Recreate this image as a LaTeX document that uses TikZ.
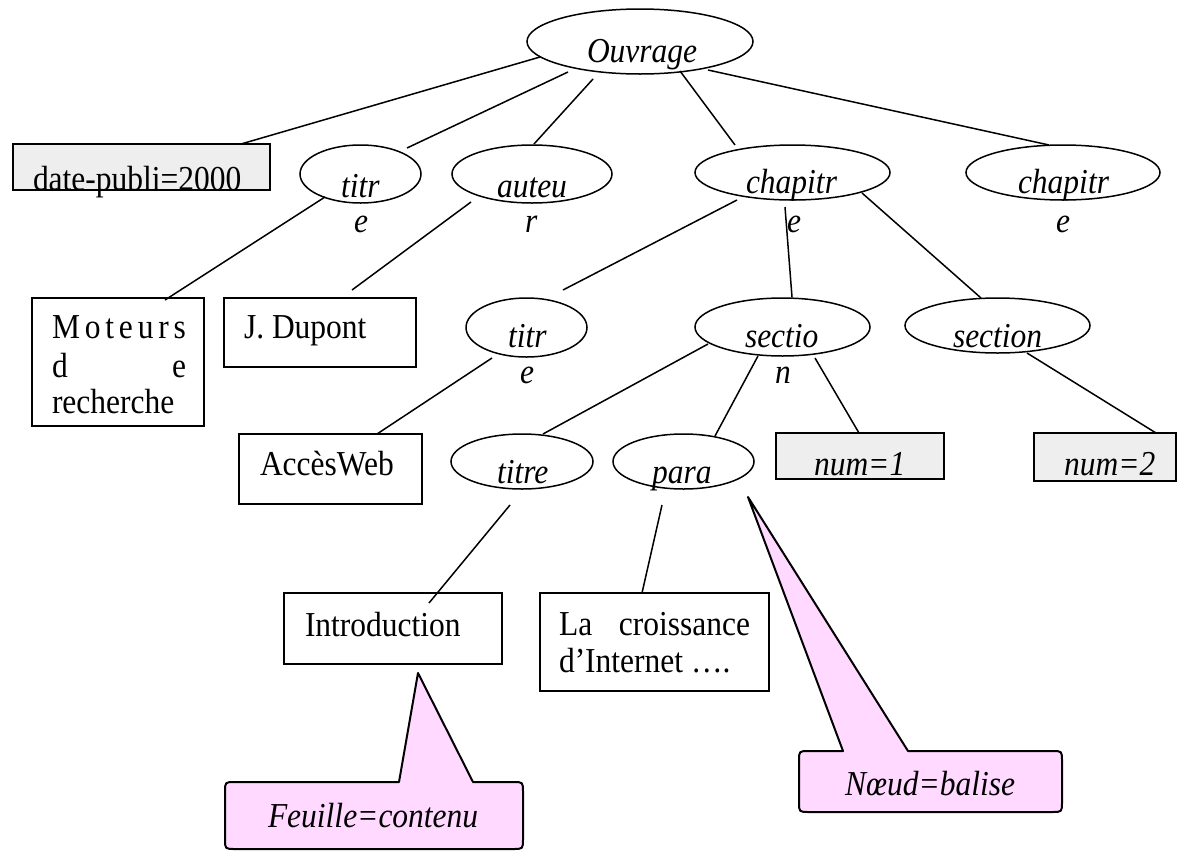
\documentclass[tikz,border=0pt]{standalone}
\usepackage{fontspec}
\setmainfont[FakeStretch=0.9]{Liberation Serif}
\usetikzlibrary{shapes.geometric}
\definecolor{boxgray}{HTML}{EEEEEE}
\definecolor{calloutpink}{HTML}{FFD9FF}
\begin{document}
\begin{tikzpicture}[x=1pt,y=-1pt,
  every node/.style={font=\fontsize{35}{40}\selectfont},
  ell/.style={ellipse,draw,line width=1.5pt,inner sep=0pt,outer sep=0pt},
  rbox/.style={draw,line width=1.5pt,anchor=north west,inner sep=0pt,outer sep=0pt},
  gbox/.style={rbox,fill=boxgray},
  lbl/.style={anchor=base west,inner sep=0pt,outer sep=0pt},
  ilbl/.style={lbl,font=\fontsize{35}{40}\selectfont\itshape},
  link/.style={line width=1.5pt},
  callout/.style={draw,line width=2pt,fill=calloutpink,line join=round}]
\useasboundingbox (0,0) rectangle (1179,852);

% connector end points
\coordinate (c1a) at (540,57);   \coordinate (c1b) at (241,144);
\coordinate (c2a) at (568,72);   \coordinate (c2b) at (407,148);
\coordinate (c3a) at (593,79);   \coordinate (c3b) at (534,144);
\coordinate (c4a) at (680,71);   \coordinate (c4b) at (735,145);
\coordinate (c5a) at (708,70);   \coordinate (c5b) at (1049,145);
\coordinate (c6a) at (325,197);  \coordinate (c6b) at (165,300);
\coordinate (c7a) at (471,202);  \coordinate (c7b) at (352,290);
\coordinate (c8a) at (737,200);  \coordinate (c8b) at (563,290);
\coordinate (c9a) at (785,207);  \coordinate (c9b) at (792,297);
\coordinate (c10a) at (862,193); \coordinate (c10b) at (981,298);
\coordinate (c11a) at (492,358); \coordinate (c11b) at (377,434);
\coordinate (c12a) at (708,344); \coordinate (c12b) at (543,434);
\coordinate (c13a) at (758,356); \coordinate (c13b) at (715,436);
\coordinate (c14a) at (815,358); \coordinate (c14b) at (859,433);
\coordinate (c15a) at (1027,353);\coordinate (c15b) at (1156,433);
\coordinate (c16a) at (510,505); \coordinate (c16b) at (429,603);
\coordinate (c17a) at (662,505); \coordinate (c17b) at (642,593);

\foreach \i in {1,...,17} \draw[link] (c\i a) -- (c\i b);

% ellipses
\node[ell,minimum width=226pt,minimum height=65pt] (ouv) at (640,41.5) {};
\node[ell,minimum width=121pt,minimum height=58pt] (titrA) at (360.5,174) {};
\node[ell,minimum width=160pt,minimum height=58pt] (aut) at (532,174) {};
\node[ell,minimum width=195pt,minimum height=55pt] (chapA) at (792.5,172.5) {};
\node[ell,minimum width=194pt,minimum height=55pt] (chapB) at (1063,172.5) {};
\node[ell,minimum width=121pt,minimum height=59pt] (titrB) at (526.5,327.5) {};
\node[ell,minimum width=175pt,minimum height=58pt] (sectA) at (782.5,327) {};
\node[ell,minimum width=185pt,minimum height=55pt] (sectB) at (997.5,325.5) {};
\node[ell,minimum width=142pt,minimum height=55pt] (titre) at (522,461.5) {};
\node[ell,minimum width=141pt,minimum height=55pt] (para) at (683.5,461.5) {};

% boxes
\node[gbox,minimum width=257pt,minimum height=46pt] (date) at (13,144) {};
\node[rbox,minimum width=172pt,minimum height=128pt] (mot) at (32,298) {};
\node[rbox,minimum width=192pt,minimum height=69pt] (dup) at (224,298) {};
\node[rbox,minimum width=183pt,minimum height=70pt] (acc) at (239,434) {};
\node[gbox,minimum width=168pt,minimum height=46pt] (numA) at (776,433) {};
\node[gbox,minimum width=142pt,minimum height=48pt] (numB) at (1034,433) {};
\node[rbox,minimum width=218pt,minimum height=71pt] (intro) at (284,593) {};
\node[rbox,minimum width=229pt,minimum height=98pt] (crois) at (540,593) {};

% callouts
\draw[callout] (399,782) -- (418,673) -- (473,782) -- (513,782)
  .. controls (523,782) .. (523,792) -- (523,839)
  .. controls (523,849) .. (513,849) -- (235,849)
  .. controls (225,849) .. (225,839) -- (225,792)
  .. controls (225,782) .. (235,782) -- cycle;
\draw[callout] (843,751) -- (748,497) -- (908,751) -- (1052,751)
  .. controls (1062,751) .. (1062,761) -- (1062,802)
  .. controls (1062,812) .. (1052,812) -- (809,812)
  .. controls (799,812) .. (799,802) -- (799,761)
  .. controls (799,751) .. (809,751) -- cycle;

% texts
\node[ilbl] (tOuv) at (587,62) {Ouvrage};
\node[lbl] (tDate) at (33,190) {date-publi=2000};
\node[ilbl] (tTitrA) at (341,197) {titr};
\node[ilbl] (tTitrAe) at (354,232) {e};
\node[ilbl] (tAut) at (497,197) {auteu};
\node[ilbl] (tAutr) at (525,232) {r};
\node[ilbl] (tChapA) at (746,193) {chapitr};
\node[ilbl] (tChapAe) at (787,232) {e};
\node[ilbl] (tChapB) at (1018,193) {chapitr};
\node[ilbl] (tChapBe) at (1056,232) {e};
\node[lbl] (tMot1) at (52,338) {\hbox to 134pt{M\hfill o\hfill t\hfill e\hfill u\hfill r\hfill s}};
\node[lbl] (tMot2) at (52,377) {\hbox to 134pt{d\hfill e}};
\node[lbl] (tMot3) at (52,413) {recherche};
\node[lbl] (tDup) at (244,338) {J. Dupont};
\node[ilbl] (tTitrB) at (508,347) {titr};
\node[ilbl] (tTitrBe) at (520,383) {e};
\node[ilbl] (tSectA) at (745,347) {sectio};
\node[ilbl] (tSectAn) at (775,383) {n};
\node[ilbl] (tSectB) at (953,347) {section};
\node[lbl] (tAcc) at (260,475) {AccèsWeb};
\node[ilbl] (tTitre) at (497,483) {titre};
\node[ilbl] (tPara) at (652,483) {para};
\node[ilbl] (tNumA) at (814,475) {num=1};
\node[ilbl] (tNumB) at (1064,475) {num=2};
\node[lbl] (tIntro) at (305,636) {Introduction};
\node[lbl] (tCrois1) at (559,635) {\hbox to 191pt{La\hfill croissance}};
\node[lbl] (tCrois2) at (559,672) {d’Internet ….};
\node[ilbl] (tFeuille) at (268,827) {Feuille=contenu};
\node[ilbl] (tNoeud) at (845,795) {Nœud=balise};
\end{tikzpicture}
\end{document}
